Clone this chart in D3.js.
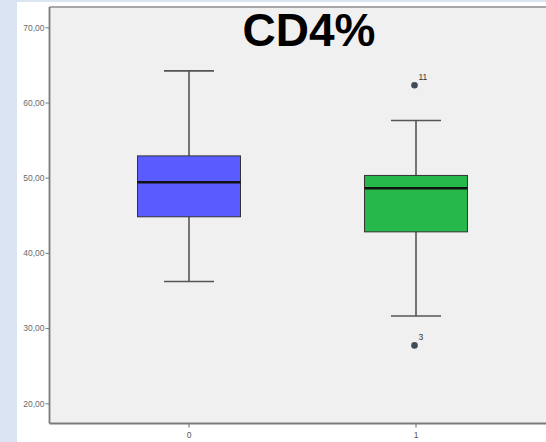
<!DOCTYPE html>
<html><head><meta charset="utf-8">
<script src="https://cdn.jsdelivr.net/npm/d3@7"></script>
<style>html,body{margin:0;padding:0;background:#fff;}svg{display:block;}</style>
</head><body>
<script>
const groups = ["0", "1"];
const upperWhisker = [64.2, 57.6];
const q3 = [52.9, 50.3];
const median = [49.4, 48.6];
const q1 = [44.8, 42.8];
const lowerWhisker = [36.2, 31.6];
const boxColors = ["#5a5cff", "#26b84a"];
const outlierGroup = ["1", "1"];
const outlierValue = [62.3, 27.7];
const outlierLabel = ["11", "3"];
const yTicks = [20, 30, 40, 50, 60, 70];

(function () {
const W = 546, H = 442;
const svg = d3.select("body").append("svg").attr("width", W).attr("height", H);
svg.append("rect").attr("width", W).attr("height", H).attr("fill", "#dbe4f3");
svg.append("rect").attr("x", 17).attr("y", 2).attr("width", W - 17).attr("height", H - 2).attr("fill", "#ffffff");

const pl = 49.5, pt = 7, pr = W, pb = 423.5;
svg.append("rect").attr("x", pl).attr("y", pt).attr("width", pr - pl).attr("height", pb - pt)
  .attr("fill", "#f0f0f0");
svg.append("line").attr("x1", pl).attr("x2", pr).attr("y1", pt).attr("y2", pt)
  .attr("stroke", "#a8a8a8").attr("stroke-width", 2);

const y = d3.scaleLinear().domain([20, 70]).range([403.3, 27.3]);
const x = d3.scaleBand().domain(groups).range([75.5, 529.5]).padding(0);

const yAxis = svg.append("g").attr("transform", `translate(${pl},0)`)
  .call(d3.axisLeft(y).tickValues(yTicks).tickSize(4).tickFormat(d => d3.format(".2f")(d).replace(".", ",")));
yAxis.select(".domain").remove();
yAxis.selectAll("line").attr("stroke", "#777");
yAxis.selectAll("text").attr("fill", "#6a6a6a").attr("font-size", 8.5).attr("font-family", "Liberation Sans, Arial, sans-serif").attr("dx", 2);
svg.append("line").attr("x1", pl).attr("x2", pl).attr("y1", pt).attr("y2", pb)
  .attr("stroke", "#7a7a7a").attr("stroke-width", 1.8);

const xAxis = svg.append("g").attr("transform", `translate(0,${pb})`)
  .call(d3.axisBottom(x).tickSize(4));
xAxis.select(".domain").remove();
xAxis.selectAll("line").attr("stroke", "#666");
xAxis.selectAll("text").attr("fill", "#555").attr("font-size", 8.5).attr("font-family", "Liberation Sans, Arial, sans-serif").attr("dy", "0.9em");
svg.append("line").attr("x1", pl).attr("x2", pr).attr("y1", pb).attr("y2", pb)
  .attr("stroke", "#7a7a7a").attr("stroke-width", 1.8);

const boxW = 103, capW = 50;
groups.forEach((g, i) => {
  const cx = x(g) + x.bandwidth() / 2;
  const gg = svg.append("g");
  gg.append("line").attr("x1", cx).attr("x2", cx).attr("y1", y(upperWhisker[i])).attr("y2", y(q3[i]))
    .attr("stroke", "#555").attr("stroke-width", 1.6);
  gg.append("line").attr("x1", cx).attr("x2", cx).attr("y1", y(q1[i])).attr("y2", y(lowerWhisker[i]))
    .attr("stroke", "#555").attr("stroke-width", 1.6);
  [upperWhisker[i], lowerWhisker[i]].forEach(v => {
    gg.append("line").attr("x1", cx - capW / 2).attr("x2", cx + capW / 2).attr("y1", y(v)).attr("y2", y(v))
      .attr("stroke", "#555").attr("stroke-width", 1.6);
  });
  gg.append("rect").attr("x", cx - boxW / 2).attr("y", y(q3[i])).attr("width", boxW)
    .attr("height", y(q1[i]) - y(q3[i])).attr("fill", boxColors[i]).attr("stroke", "#333").attr("stroke-width", 1);
  gg.append("line").attr("x1", cx - boxW / 2).attr("x2", cx + boxW / 2).attr("y1", y(median[i])).attr("y2", y(median[i]))
    .attr("stroke", "#111").attr("stroke-width", 2.4);
});

outlierValue.forEach((v, i) => {
  const cx = x(outlierGroup[i]) + x.bandwidth() / 2 - 1.5;
  svg.append("circle").attr("cx", cx).attr("cy", y(v)).attr("r", 3.3).attr("fill", "#3f4b57");
  svg.append("text").attr("x", cx + 4).attr("y", y(v) - 5).text(outlierLabel[i])
    .attr("font-size", 8.5).attr("fill", "#333").attr("font-family", "Liberation Sans, Arial, sans-serif");
});

svg.append("text").attr("x", 309).attr("y", 46).attr("text-anchor", "middle")
  .attr("font-family", "Liberation Sans, Arial, sans-serif").attr("font-weight", "bold").attr("font-size", 46)
  .attr("fill", "#000").text("CD4%");
})();
</script>
</body></html>
